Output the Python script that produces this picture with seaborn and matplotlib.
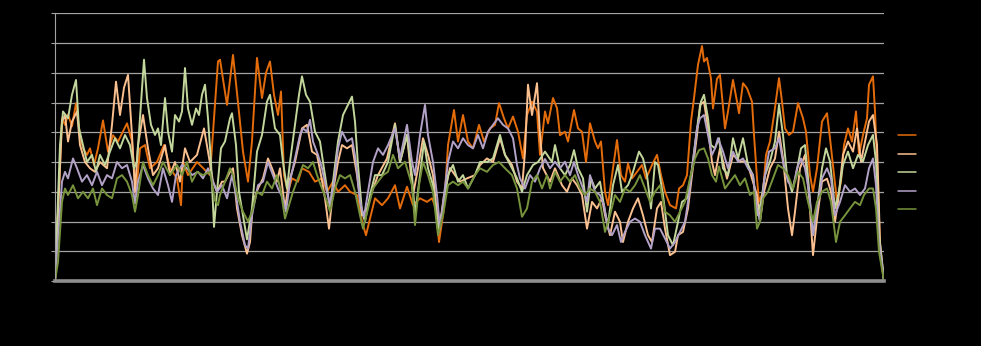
import matplotlib
matplotlib.use("Agg")
import matplotlib.pyplot as plt
import seaborn as sns
import pandas as pd

# Series labels (legend text is drawn in black on the black background)
series_names = ["Series1", "Series2", "Series3", "Series4", "Series5"]
series_colors = ["#e46c0a", "#fac090", "#c3d69b", "#b3a2c7", "#77933c"]

# Day index and value for each series (turning points of the rolling curves)
s1_day = [0, 7, 10, 13, 17, 21, 25, 28, 32, 35, 39, 43, 48, 53, 58, 63, 72, 77, 81, 85, 90, 95, 102, 109, 115,
          122, 126, 128, 133, 142, 148, 155, 159, 163, 165, 172, 178, 183, 188, 193, 197, 202, 207, 211, 215, 219,
          223, 226, 229, 233, 237, 243, 247, 254, 260, 267, 272, 278, 283, 290, 295, 302, 307, 311, 315, 320, 327,
          333, 340, 345, 352, 358, 365, 372, 377, 381, 384, 389, 393, 399, 403, 408, 413, 418, 424, 429, 435, 440,
          444, 449, 453, 458, 463, 468, 472, 477, 482, 485, 490, 493, 498, 502, 505, 510, 513, 519, 523, 527, 531,
          535, 540, 543, 546, 550, 553, 558, 562, 566, 570, 573, 577, 582, 587, 591, 597, 602, 606, 610, 615, 621,
          624, 628, 632, 636, 639, 643, 647, 649, 652, 656, 658, 662, 665, 670, 673, 678, 682, 684, 688, 692, 697,
          699, 702, 704, 708, 711, 715, 719, 724, 727, 730, 734, 738, 743, 748, 751, 755, 758, 762, 767, 772, 775,
          779, 782, 786, 789, 793, 797, 801, 804, 808, 812, 814, 818, 820, 823, 825, 829]
s1_val = [0, 5.47, 5.25, 5.6, 5.2, 5.98, 4.9, 4.46, 4.24, 4.46, 3.9, 4.46, 5.4, 4.35, 4.9, 4.69, 5.3, 4.7, 2.89,
          4.46, 4.57, 3.79, 4.0, 4.57, 3.79, 3.45, 2.55, 4.0, 3.56, 4.0, 3.8, 3.56, 5.47, 7.38, 7.44, 5.92, 7.6, 6.0,
          4.35, 3.34, 4.7, 7.5, 6.15, 7.0, 7.38, 6.26, 5.58, 6.37, 3.56, 3.0, 3.45, 3.34, 3.79, 3.67, 3.34, 3.45,
          3.0, 3.34, 3.0, 3.22, 3.0, 2.89, 2.0, 1.54, 2.1, 2.78, 2.55, 2.78, 3.22, 2.44, 3.17, 2.55, 2.78, 2.66,
          2.78, 2.44, 1.31, 2.44, 4.57, 5.75, 4.69, 5.58, 4.69, 4.46, 5.25, 4.69, 5.13, 5.25, 5.98, 5.47, 5.13,
          5.53, 5.02, 4.12, 5.58, 6.03, 5.7, 4.24, 5.7, 5.3, 6.15, 5.81, 4.9, 5.02, 4.69, 5.75, 5.13, 5.02, 4.0,
          5.3, 4.69, 4.46, 4.69, 3.0, 2.55, 3.79, 4.74, 3.56, 3.34, 3.95, 3.45, 3.67, 3.9, 3.44, 3.9, 4.24, 3.56,
          3.0, 2.55, 2.44, 3.11, 3.22, 3.56, 5.36, 6.15, 7.27, 7.9, 7.38, 7.5, 6.8, 5.8, 6.8, 6.93, 5.13, 5.7,
          6.76, 6.03, 5.64, 6.65, 6.48, 6.03, 4.91, 3.45, 2.66, 3.0, 4.24, 4.69, 5.58, 6.82, 6.03, 5.13, 4.91,
          5.02, 5.98, 5.47, 5.02, 3.56, 3.0, 3.79, 5.36, 5.64, 4.8, 3.56, 2.66, 3.34, 4.57, 5.13, 4.69, 5.7, 4.24,
          4.91, 5.47, 6.6, 6.88, 5.7, 3.22, 0.98, 0]

s2_day = [0, 7, 10, 13, 17, 22, 25, 30, 35, 40, 45, 52, 57, 61, 65, 69, 73, 77, 80, 83, 88, 93, 98, 103, 110, 115,
          120, 125, 130, 135, 142, 149, 153, 158, 162, 167, 170, 175, 178, 182, 187, 192, 195, 198, 203, 208, 213,
          217, 222, 225, 230, 234, 240, 247, 252, 257, 262, 266, 270, 274, 278, 283, 287, 292, 297, 302, 307, 312,
          317, 323, 332, 340, 345, 352, 358, 363, 368, 373, 378, 384, 389, 395, 400, 405, 412, 420, 425, 432, 438,
          445, 450, 457, 462, 467, 470, 473, 477, 482, 485, 488, 495, 500, 507, 512, 517, 522, 527, 532, 537, 542,
          547, 550, 555, 560, 565, 568, 573, 578, 583, 588, 593, 597, 602, 606, 610, 615, 620, 623, 628, 633, 637,
          642, 645, 649, 653, 657, 660, 665, 672, 678, 685, 692, 697, 702, 705, 709, 715, 720, 724, 728, 733, 737,
          740, 745, 750, 754, 758, 762, 767, 772, 776, 780, 783, 788, 793, 798, 802, 806, 810, 814, 818, 822, 825,
          829]
s2_val = [0, 5.36, 5.58, 4.69, 5.36, 5.7, 4.57, 4.0, 3.79, 3.67, 4.0, 3.79, 5.25, 6.7, 5.58, 6.5, 6.93, 4.91, 3.0,
          4.57, 5.58, 4.46, 3.56, 3.79, 4.57, 3.56, 4.0, 3.34, 4.46, 4.0, 4.24, 5.13, 4.35, 3.34, 3.0, 3.34, 3.34,
          3.67, 3.79, 2.44, 1.54, 0.92, 1.31, 2.66, 3.11, 3.45, 4.12, 3.79, 3.34, 3.79, 2.44, 3.34, 4.0, 5.13, 5.25,
          4.35, 4.24, 3.56, 2.78, 1.76, 3.0, 4.0, 4.57, 4.46, 4.57, 3.56, 2.21, 2.44, 3.0, 3.56, 4.12, 5.3, 4.0,
          4.91, 2.89, 3.79, 4.8, 4.24, 3.56, 1.65, 2.89, 3.8, 3.56, 3.34, 3.45, 3.56, 3.9, 4.12, 4.0, 4.8, 4.24,
          3.9, 3.34, 3.11, 4.35, 6.6, 5.58, 6.65, 4.91, 3.8, 3.34, 3.79, 3.22, 3.0, 3.45, 3.22, 2.89, 1.76, 2.66,
          2.44, 2.78, 2.21, 1.54, 2.33, 1.99, 1.31, 1.99, 2.44, 2.78, 2.21, 1.54, 1.31, 2.44, 2.66, 1.76, 0.87,
          0.98, 1.54, 1.65, 2.44, 3.56, 4.91, 5.92, 6.03, 5.13, 4.0, 3.56, 4.46, 3.44, 4.24, 4.02, 4.02, 3.44, 2.89,
          2.0, 3.0, 3.79, 4.12, 5.02, 4.12, 2.44, 1.54, 2.33, 3.79, 4.24, 2.89, 0.87, 2.1, 3.34, 3.44, 3.0, 2.0,
          2.66, 4.24, 4.69, 4.35, 5.13, 4.01, 4.69, 5.36, 5.58, 4.58, 1.31, 0]

s3_day = [0, 5, 8, 13, 17, 21, 24, 28, 32, 37, 41, 45, 50, 55, 60, 65, 70, 75, 79, 82, 85, 89, 92, 96, 100, 103,
          106, 110, 113, 117, 120, 124, 127, 130, 133, 137, 141, 144, 147, 150, 153, 156, 159, 162, 166, 170, 175,
          177, 181, 184, 188, 192, 197, 202, 207, 212, 215, 220, 225, 228, 232, 235, 240, 244, 247, 251, 255, 260,
          265, 268, 272, 275, 278, 283, 288, 293, 297, 300, 303, 307, 310, 315, 320, 327, 333, 340, 345, 352, 357,
          360, 365, 369, 373, 378, 383, 388, 393, 398, 403, 408, 413, 420, 425, 432, 438, 445, 450, 457, 462, 467,
          472, 478, 483, 490, 497, 500, 505, 510, 515, 519, 523, 528, 532, 536, 540, 545, 550, 553, 558, 563, 567,
          573, 577, 584, 588, 592, 596, 600, 603, 608, 613, 618, 623, 627, 632, 637, 642, 646, 649, 653, 656, 660,
          664, 668, 673, 678, 683, 688, 693, 698, 702, 706, 710, 715, 720, 724, 728, 732, 737, 741, 746, 750, 754,
          758, 762, 767, 771, 775, 780, 784, 788, 793, 798, 803, 808, 813, 818, 821, 824, 829]
s3_val = [0, 4.57, 5.7, 5.47, 6.26, 6.76, 5.13, 4.57, 4.0, 4.24, 3.67, 4.24, 3.9, 4.35, 4.8, 4.46, 4.91, 4.57,
          3.79, 4.02, 5.47, 7.44, 6.15, 5.25, 4.91, 5.13, 4.57, 6.15, 5.02, 4.35, 5.58, 5.36, 5.7, 7.16, 5.8, 5.25,
          5.8, 5.58, 6.26, 6.6, 5.47, 4.0, 1.82, 3.0, 4.46, 4.69, 5.47, 5.64, 4.57, 3.0, 2.21, 1.4, 2.44, 4.35,
          4.91, 6.03, 6.26, 5.13, 4.91, 4.0, 3.11, 4.0, 5.25, 6.26, 6.88, 6.26, 6.03, 5.02, 4.69, 4.0, 3.11, 2.44,
          3.34, 4.69, 5.58, 5.92, 6.2, 5.36, 3.9, 2.33, 2.0, 2.89, 3.56, 3.56, 4.0, 5.25, 4.0, 4.91, 3.56, 2.21,
          3.56, 4.69, 3.79, 3.22, 1.76, 2.44, 3.56, 3.9, 3.34, 3.56, 3.11, 3.56, 4.0, 4.0, 4.12, 4.91, 4.24, 3.79,
          3.45, 3.0, 3.56, 3.9, 4.0, 4.35, 4.0, 4.57, 3.79, 3.56, 3.9, 4.4, 3.79, 3.45, 2.33, 3.45, 3.11, 3.34,
          2.33, 1.88, 3.22, 3.9, 3.0, 3.22, 3.56, 4.35, 4.12, 3.56, 2.44, 4.0, 3.9, 2.89, 1.54, 1.2, 1.99, 2.66,
          2.78, 3.79, 5.13, 6.03, 6.26, 5.47, 4.57, 4.46, 4.8, 3.79, 3.56, 4.8, 4.12, 4.8, 3.9, 3.56, 2.21, 2.66,
          3.56, 4.02, 4.69, 5.92, 4.91, 3.56, 3.0, 3.56, 4.46, 4.57, 3.11, 1.54, 2.44, 3.79, 4.46, 4.02, 2.44, 3.0,
          3.9, 4.35, 3.79, 4.24, 4.02, 4.57, 4.91, 4.01, 1.54, 0]

s4_day = [0, 7, 10, 13, 18, 22, 27, 32, 37, 42, 47, 52, 57, 62, 67, 72, 77, 80, 83, 88, 93, 98, 103, 108, 113, 117,
          121, 127, 132, 137, 143, 148, 153, 158, 162, 167, 172, 177, 181, 185, 190, 193, 197, 203, 208, 213, 218,
          223, 228, 231, 235, 240, 245, 248, 252, 255, 258, 263, 267, 272, 275, 279, 283, 287, 292, 297, 301, 305,
          309, 313, 318, 323, 328, 333, 340, 345, 352, 357, 360, 365, 370, 373, 378, 382, 385, 389, 393, 398, 403,
          408, 413, 418, 423, 428, 433, 438, 443, 448, 453, 458, 462, 465, 470, 475, 480, 485, 490, 495, 500, 505,
          510, 515, 519, 523, 528, 532, 535, 540, 545, 549, 553, 557, 562, 566, 570, 575, 580, 585, 590, 596, 600,
          605, 610, 615, 620, 625, 630, 634, 638, 642, 645, 649, 653, 657, 660, 663, 668, 673, 678, 683, 688, 693,
          698, 702, 705, 709, 714, 720, 724, 728, 733, 738, 742, 746, 750, 754, 758, 762, 767, 772, 776, 780, 785,
          790, 795, 800, 805, 810, 814, 818, 821, 824, 829]
s4_val = [0, 3.34, 3.67, 3.45, 4.12, 3.79, 3.34, 3.56, 3.22, 3.67, 3.22, 3.56, 3.45, 4.0, 3.79, 3.9, 3.34, 2.6,
          3.34, 3.9, 3.45, 3.11, 2.89, 3.79, 3.22, 2.66, 3.56, 3.9, 3.79, 3.56, 3.67, 3.45, 3.79, 3.34, 3.0, 3.22,
          2.78, 3.56, 2.89, 2.0, 1.2, 1.09, 2.21, 3.22, 3.34, 4.0, 3.56, 3.11, 2.78, 2.33, 3.34, 4.12, 4.91, 5.13,
          5.02, 5.42, 4.69, 4.24, 3.79, 3.0, 2.55, 3.34, 4.46, 5.02, 4.69, 4.8, 4.01, 2.66, 2.16, 3.0, 4.0, 4.46,
          4.24, 4.57, 5.13, 4.12, 5.25, 4.01, 3.56, 4.91, 5.92, 4.91, 4.0, 2.89, 1.76, 2.89, 4.0, 4.69, 4.46, 4.8,
          4.57, 4.46, 4.91, 4.46, 5.02, 5.25, 5.47, 5.25, 5.13, 4.8, 3.9, 3.45, 3.11, 3.56, 3.34, 3.79, 4.1, 3.79,
          4.01, 3.79, 4.01, 3.56, 4.0, 3.56, 3.11, 2.66, 3.56, 3.0, 2.89, 2.55, 1.76, 1.54, 1.88, 1.31, 1.65, 1.99,
          2.1, 1.99, 1.54, 1.09, 1.76, 1.76, 1.43, 1.09, 1.31, 1.65, 1.99, 2.89, 4.0, 5.13, 5.47, 5.58, 4.91, 4.24,
          4.46, 4.8, 4.35, 3.79, 4.35, 4.01, 4.12, 3.79, 3.56, 2.44, 2.0, 3.34, 4.35, 4.46, 4.8, 4.01, 3.34, 3.11,
          3.79, 4.12, 3.79, 3.0, 1.54, 2.44, 3.45, 3.79, 3.45, 2.21, 2.66, 3.22, 3.0, 3.11, 2.89, 3.11, 3.79, 4.12,
          3.22, 1.31, 0]

s5_day = [0, 3, 7, 10, 13, 18, 23, 28, 33, 38, 42, 47, 52, 57, 62, 67, 72, 77, 80, 83, 88, 93, 98, 103, 108, 115,
          122, 127, 132, 137, 142, 148, 155, 160, 163, 165, 170, 175, 178, 183, 188, 193, 197, 202, 207, 212, 217,
          222, 226, 230, 233, 238, 243, 248, 253, 258, 262, 267, 272, 275, 280, 285, 290, 295, 300, 305, 308, 313,
          318, 323, 328, 333, 338, 343, 350, 357, 360, 364, 368, 373, 378, 383, 388, 393, 398, 403, 408, 413, 420,
          425, 432, 438, 444, 450, 457, 462, 467, 472, 477, 482, 487, 492, 495, 500, 505, 510, 515, 520, 525, 530,
          535, 540, 545, 550, 555, 560, 565, 570, 575, 580, 585, 590, 595, 600, 605, 610, 615, 620, 625, 630, 635,
          640, 644, 649, 653, 657, 661, 664, 670, 675, 680, 685, 690, 695, 699, 702, 705, 708, 713, 718, 723, 728,
          733, 738, 743, 748, 753, 758, 762, 767, 772, 776, 781, 785, 790, 795, 800, 805, 809, 814, 818, 821, 824,
          829]
s5_val = [0, 0.64, 2.66, 3.11, 2.89, 3.22, 2.78, 3.0, 2.78, 3.11, 2.55, 3.11, 2.89, 2.78, 3.45, 3.56, 3.34, 2.89,
          2.33, 2.89, 4.0, 3.56, 3.22, 3.56, 4.0, 3.56, 3.9, 3.56, 4.0, 3.34, 3.67, 3.56, 3.67, 2.7, 2.55, 2.89,
          3.34, 3.79, 3.56, 2.78, 2.33, 2.0, 2.33, 3.0, 2.89, 3.34, 3.11, 3.56, 3.0, 2.1, 2.44, 3.0, 3.45, 3.9,
          3.79, 4.0, 3.56, 3.11, 2.66, 2.33, 3.11, 3.56, 3.45, 3.56, 3.0, 2.21, 1.76, 2.44, 3.11, 3.34, 3.56, 3.67,
          4.24, 3.79, 4.01, 3.22, 1.88, 3.22, 4.0, 3.56, 3.0, 1.54, 2.21, 3.22, 3.34, 3.22, 3.34, 3.11, 3.56, 3.79,
          3.67, 3.9, 4.0, 3.79, 3.56, 3.11, 2.16, 2.44, 3.34, 3.56, 3.11, 3.56, 3.11, 3.67, 3.34, 3.56, 3.34, 3.56,
          3.11, 2.89, 3.11, 3.0, 2.66, 1.65, 2.21, 2.89, 2.66, 3.11, 3.0, 3.22, 3.56, 3.11, 2.66, 3.0, 3.22, 2.33,
          2.21, 1.99, 2.33, 2.66, 3.45, 4.12, 4.4, 4.46, 4.12, 3.56, 3.34, 3.85, 3.11, 3.34, 3.56, 3.22, 3.45, 2.89,
          3.0, 1.76, 1.99, 2.78, 3.0, 3.45, 3.9, 3.79, 3.56, 3.11, 3.67, 3.45, 2.66, 1.99, 2.66, 3.0, 3.11, 2.66,
          1.31, 1.99, 2.21, 2.44, 2.66, 2.55, 2.89, 3.11, 3.11, 2.44, 0.98, 0]

y_ticks = list(range(0, 10))

series_days = [s1_day, s2_day, s3_day, s4_day, s5_day]
series_vals = [s1_val, s2_val, s3_val, s4_val, s5_val]
frames = [pd.DataFrame({"day": d, "value": v, "series": n})
          for n, d, v in zip(series_names, series_days, series_vals)]
df = pd.concat(frames, ignore_index=True)

sns.set_theme(style="dark")
plt.rcParams["font.family"] = ["DejaVu Sans"]

W, H = 981, 346
fig = plt.figure(figsize=(W / 100, H / 100), dpi=100, facecolor="black")
ax = fig.add_axes([55 / W, 1 - 281 / H, 829 / W, (281 - 13.3) / H])
ax.set_facecolor("black")

sns.lineplot(data=df, x="day", y="value", hue="series", hue_order=series_names,
             palette=dict(zip(series_names, series_colors)), estimator=None, sort=False,
             lw=1.4, legend=False, ax=ax)

ax.set_xlim(0, 829)
ax.set_ylim(0, 9)
ax.set_yticks(y_ticks)
ax.set_xticks([])
ax.set_xlabel("")
ax.set_ylabel("")
ax.set_axisbelow(True)
ax.yaxis.grid(True, color="#a3a3a3", lw=0.9)
ax.xaxis.grid(False)
ax.tick_params(axis="y", left=True, length=3, width=0.8, color="#a3a3a3", labelcolor="black", labelsize=9)

for side in ("top", "right"):
    ax.spines[side].set_visible(False)
ax.spines["left"].set_color("#a3a3a3")
ax.spines["left"].set_linewidth(0.8)
ax.spines["bottom"].set_color("#8f8f8f")
ax.spines["bottom"].set_linewidth(2.6)

leg = fig.legend(ax.lines[:5], series_names, loc="center left",
                 bbox_to_anchor=(898 / W, 1 - 173 / H), frameon=False, fontsize=10,
                 labelcolor="black", handlelength=1.3, handletextpad=0.5, labelspacing=0.33,
                 borderpad=0, borderaxespad=0)
for handle in leg.legend_handles:
    handle.set_linewidth(1.1)

fig.savefig("out.png", dpi=100, facecolor="black")
